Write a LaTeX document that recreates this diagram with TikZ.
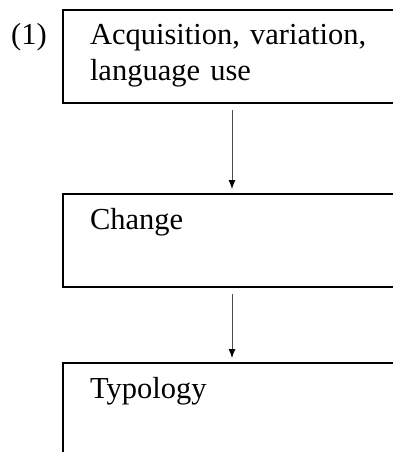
\documentclass[tikz,border=0pt]{standalone}
\usepackage{fontspec}
\setmainfont{Liberation Serif}
\usetikzlibrary{positioning}
\usetikzlibrary{arrows.meta}

\tikzset{
    stage/.style={draw, line width=2.2pt, anchor=north west, outer sep=0pt,
        inner xsep=27pt, inner ysep=0pt, text width=330pt, align=left,
        text height=35pt, text depth=58pt},
    flow/.style={draw=black!70, line width=0.9pt,
        -{Latex[length=9pt, width=7pt, black]},
        shorten <=7pt, shorten >=5pt}
}

\begin{document}
\begin{tikzpicture}[x=1pt, y=-1pt, font=\fontsize{30.5}{36}\selectfont]
    \useasboundingbox (0, 0) rectangle (393, 452);
    \clip (0, 0) rectangle (393, 452);

    \node [stage] (acq) at (63, 10) {Acquisition, variation,\\language use};
    \node [stage, below=91pt of acq.south west, anchor=north west] (change) {Change};
    \node [stage, below=76pt of change.south west, anchor=north west] (typ) {Typology};

    \node [inner sep=0pt, left=16pt of acq.base west, anchor=base east] (num) {(1)};

    \draw [flow] ([xshift=169pt]acq.south west) -- ([xshift=169pt]change.north west);
    \draw [flow] ([xshift=169pt]change.south west) -- ([xshift=169pt]typ.north west);
\end{tikzpicture}
\end{document}
